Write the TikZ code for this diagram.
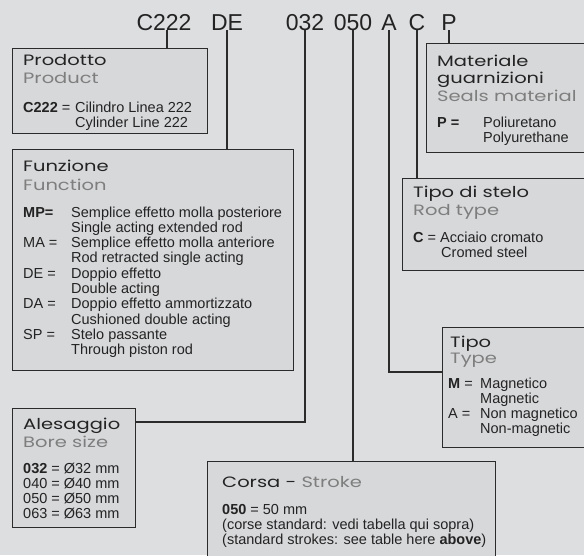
\documentclass[tikz,border=0pt]{standalone}
\usepackage{fontspec}
\setmainfont{Liberation Sans}
\newfontfamily\titlefont{Poppins}[FakeStretch=1.3]
\definecolor{paper}{HTML}{DDDEE0}
\definecolor{boxfill}{HTML}{D7D8DA}
\definecolor{ink}{HTML}{232323}
\definecolor{grey}{HTML}{7E7E7E}
\definecolor{rule}{HTML}{2B2B2B}
\tikzset{
  box/.style={draw=rule, fill=boxfill, line width=1.2pt, inner sep=0, anchor=north west},
  lnk/.style={draw=rule, line width=1.2pt},
  code/.style={font=\fontsize{23}{23}\selectfont, text=ink, inner sep=0, text depth=0pt, anchor=base},
  ttl/.style={font=\titlefont\fontsize{15}{18}\selectfont, text=ink, inner sep=0, anchor=base west},
  sub/.style={ttl, text=grey},
  body/.style={font=\fontsize{14.5}{15.3}\selectfont, text=ink, inner sep=0, anchor=base west}
}

\begin{document}
\begin{tikzpicture}[x=1pt,y=-1pt]
  \useasboundingbox[fill=paper] (0,0) rectangle (584,555);
  \clip (0,0) rectangle (584,555);
  % code string
  \node[code] (c222) at (164,30) {C222};
  \node[code] (cde) at (227,30) {DE};
  \node[code] (c032) at (305,30) {032};
  \node[code] (c050) at (353,30) {050};
  \node[code] (ca) at (389,30) {A};
  \node[code] (cc) at (417,30) {C};
  \node[code] (cp) at (449,30) {P};
  % boxes
  \node[box, minimum width=195, minimum height=85] (prod) at (12,48) {};
  \node[box, minimum width=281, minimum height=221] (func) at (12,149) {};
  \node[box, minimum width=200, minimum height=109] (mat) at (426,43) {};
  \node[box, minimum width=200, minimum height=92] (stelo) at (402,178) {};
  \node[box, minimum width=160, minimum height=120] (tipo) at (442,327) {};
  \node[box, minimum width=123, minimum height=119] (ales) at (12,408) {};
  \node[box, minimum width=288, minimum height=120] (corsa) at (207,461) {};
  % connectors
  \draw[lnk] ([xshift=3pt]c222.south) -- ([xshift=3pt]c222.south |- prod.north);
  \draw[lnk] (cde.south) -- (cde.south |- func.north);
  \draw[lnk] (c032.south) |- ([yshift=-14pt]ales.north east);
  \draw[lnk] (c050.south) -- (c050.south |- corsa.north);
  \draw[lnk] (ca.south) |- ([yshift=-45pt]tipo.north west);
  \draw[lnk] (cc.south) -- (cc.south |- stelo.north);
  \draw[lnk] (cp.south) -- (cp.south |- mat.north);
  % Prodotto
  \node[ttl] (prodt) at (23,65) {Prodotto};
  \node[sub] (prods) at (23,83) {Product};
  \node[body] (prodb) at (23,112) {\begin{tabular}[t]{@{}p{52pt}@{}l@{}}
    \textbf{C222} = & Cilindro Linea 222\\ & Cylinder Line 222\end{tabular}};
  % Funzione
  \node[ttl] (funct) at (23,171) {Funzione};
  \node[sub] (funcs) at (23,190) {Function};
  \node[body] (funcb) at (23,217) {\begin{tabular}[t]{@{}p{48pt}@{}l@{}}
    \textbf{MP=} & Semplice effetto molla posteriore\\
     & Single acting extended rod\\
    MA = & Semplice effetto molla anteriore\\
     & Rod retracted single acting\\
    DE = & Doppio effetto\\
     & Double acting\\
    DA = & Doppio effetto ammortizzato\\
     & Cushioned double acting\\
    SP = & Stelo passante\\
     & Through piston rod\end{tabular}};
  % Materiale guarnizioni
  \node[ttl] (matt) at (437,66) {Materiale};
  \node[ttl] (matt2) at (437,83.5) {guarnizioni};
  \node[sub] (mats) at (437,101) {Seals material};
  \node[body] (matb) at (437,127) {\begin{tabular}[t]{@{}p{46pt}@{}l@{}}
    \textbf{P =} & Poliuretano\\ & Polyurethane\end{tabular}};
  % Tipo di stelo
  \node[ttl] (stelot) at (413,197) {Tipo di stelo};
  \node[sub] (stelos) at (413,215) {Rod type};
  \node[body] (stelob) at (413,242) {\begin{tabular}[t]{@{}p{27pt}@{}l@{}}
    \textbf{C} = & Acciaio cromato\\ & \hspace{1pt}Cromed steel\end{tabular}};
  % Tipo
  \node[ttl] (tipot) at (450,347) {Tipo};
  \node[sub] (tipos) at (450,363.5) {Type};
  \node[body] (tipob) at (448,388) {\begin{tabular}[t]{@{}p{32pt}@{}l@{}}
    \textbf{M} = & Magnetico\\ & Magnetic\\
    A = & Non magnetico\\ & Non-magnetic\end{tabular}};
  % Alesaggio
  \node[ttl] (alest) at (23,429) {Alesaggio};
  \node[sub] (aless) at (23,447) {Bore size};
  \node[body] (alesb) at (23,473) {\begin{tabular}[t]{@{}l@{}}
    \textbf{032} = Ø32 mm\\ 040 = Ø40 mm\\ 050 = Ø50 mm\\ 063 = Ø63 mm\end{tabular}};
  % Corsa
  \node[ttl] (corsat) at (222,487) {Corsa - \textcolor{grey}{Stroke}};
  \node[body] (corsab) at (222,514) {\begin{tabular}[t]{@{}l@{}}
    \textbf{050} = 50 mm\\
    (corse standard: vedi tabella qui sopra)\\
    (standard strokes: see table here \textbf{above})\end{tabular}};
\end{tikzpicture}
\end{document}
